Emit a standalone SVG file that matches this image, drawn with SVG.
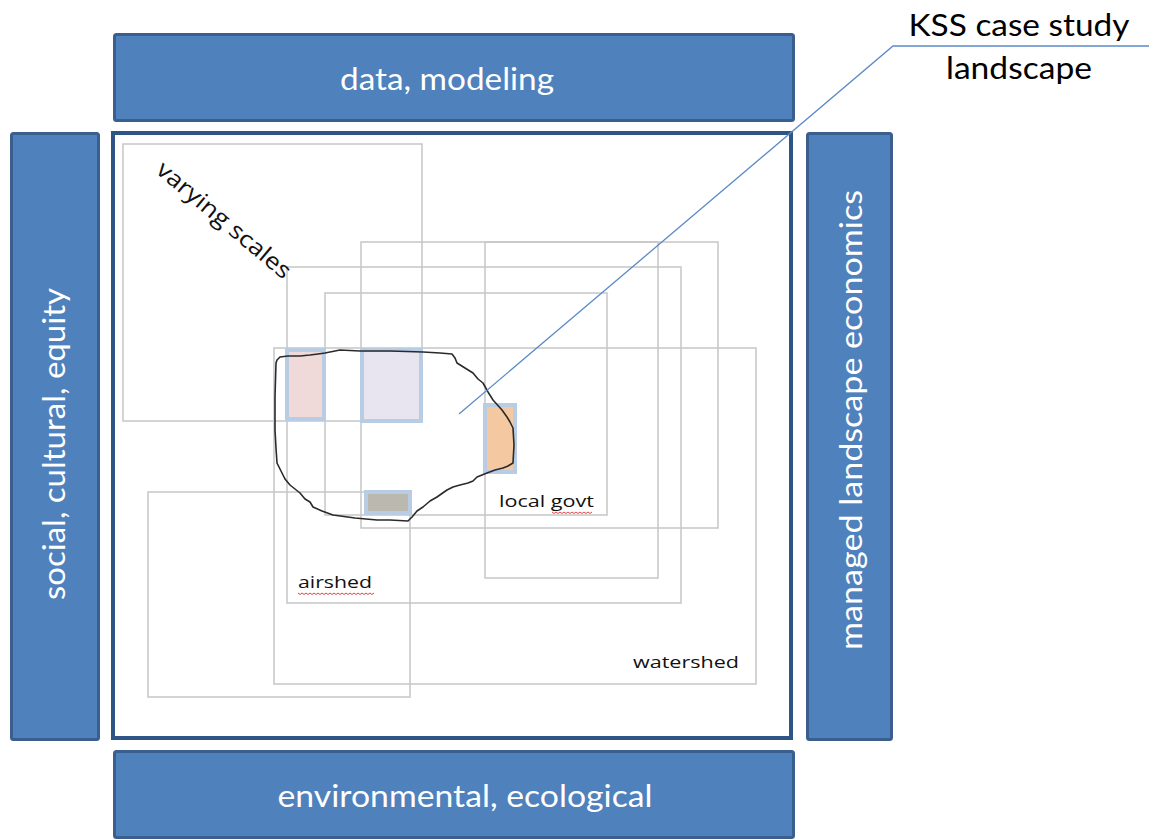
<svg xmlns="http://www.w3.org/2000/svg" width="1153" height="840" viewBox="0 0 1153 840">
<style>
.band{fill:#4f81bd;stroke:#3a5f8e;stroke-width:3}
.bt{font-family:Lato,"Open Sans",sans-serif;font-size:30px;fill:#ffffff}
.grid{fill:none;stroke:#c6c6c6;stroke-width:1.5}
.patch{stroke:#b8cce4;stroke-width:4}
.lbl{font-family:"Open Sans",Lato,sans-serif;font-size:17px;fill:#111111}
.vs{font-size:23px}
.kss{font-family:Lato,"Open Sans",sans-serif;font-size:31px;fill:#000000}
.sq{fill:none;stroke:#e03030;stroke-width:0.9}
</style>
<rect width="1153" height="840" fill="#ffffff"/>
<g id="top-band"><rect class="band" x="114.5" y="34.5" width="679" height="86" rx="2"/><text class="bt" x="447" y="90" text-anchor="middle" textLength="214" lengthAdjust="spacingAndGlyphs">data, modeling</text></g>
<g id="bottom-band"><rect class="band" x="114.5" y="751.5" width="679" height="86" rx="2"/><text class="bt" x="465" y="807" text-anchor="middle" textLength="375" lengthAdjust="spacingAndGlyphs">environmental, ecological</text></g>
<g id="left-band"><rect class="band" x="11.5" y="133.5" width="87" height="606" rx="2"/><text class="bt" transform="translate(65,444) rotate(-90)" x="0" y="0" text-anchor="middle" textLength="312" lengthAdjust="spacingAndGlyphs">social, cultural, equity</text></g>
<g id="right-band"><rect class="band" x="807.5" y="133.5" width="84" height="606" rx="2"/><text class="bt" transform="translate(862,420) rotate(-90)" x="0" y="0" text-anchor="middle" textLength="460" lengthAdjust="spacingAndGlyphs">managed landscape economics</text></g>
<g id="frame"><rect x="113" y="133" width="678" height="605" fill="none" stroke="#2f5587" stroke-width="4"/></g>
<g id="scales">
<rect class="grid" x="123" y="144" width="299" height="277"/>
<rect class="grid" x="361" y="242" width="357" height="286"/>
<rect class="grid" x="485" y="242" width="173" height="336"/>
<rect class="grid" x="287" y="267" width="394" height="336"/>
<rect class="grid" x="325" y="293" width="282" height="222"/>
<rect class="grid" x="274" y="348" width="482" height="336"/>
<rect class="grid" x="148" y="492" width="262" height="205"/>
</g>
<g id="patches">
<rect class="patch" x="287" y="350" width="37" height="69" fill="#efd9d9"/>
<rect class="patch" x="362" y="350" width="59" height="71" fill="#e8e4f0"/>
<rect class="patch" x="485" y="405" width="30" height="67" fill="#f4c8a0"/>
<rect class="patch" x="366" y="492" width="44" height="21" fill="#bbb8b0"/>
</g>
<g id="landscape">
<path d="M277,360 L280,357 L288,356 L300,356 L310,355 L318,354 L325,353 L340,350 L360,351 L390,351 L423,352 L440,353 L452,354 L455,358 L457,363 L465,368 L473,373 L478,379 L483,383 L488,392 L493,400 L502,410 L507,417 L510,422 L513,428 L514,445 L513,463 L508,466 L503,468 L495,470 L487,473 L477,477 L473,481 L468,483 L460,485 L453,487 L447,490 L437,497 L430,501 L423,507 L417,511 L412,517 L408,521 L390,520 L377,520 L355,518 L333,515 L322,511 L313,507 L310,502 L305,499 L300,493 L290,485 L285,479 L282,473 L277,463 L276,448 L275,430 L275,397 L276,363 Z" fill="none" stroke="#2a2a2a" stroke-width="1.6" stroke-linejoin="round"/>
</g>
<g id="labels">
<text class="lbl vs" transform="translate(219,226) rotate(40)" x="0" y="0" text-anchor="middle" textLength="168" lengthAdjust="spacingAndGlyphs">varying scales</text>
<text class="lbl" x="499" y="507" textLength="95" lengthAdjust="spacingAndGlyphs">local govt</text>
<path class="sq" d="M552,512 l2,1.5 l2,-1.5 l2,1.5 l2,-1.5 l2,1.5 l2,-1.5 l2,1.5 l2,-1.5 l2,1.5 l2,-1.5 l2,1.5 l2,-1.5 l2,1.5 l2,-1.5 l2,1.5 l2,-1.5 l2,1.5 l2,-1.5 l2,1.5 l2,-1.5"/>
<text class="lbl" x="298" y="588" textLength="74" lengthAdjust="spacingAndGlyphs">airshed</text>
<path class="sq" d="M298,593 l2,1.5 l2,-1.5 l2,1.5 l2,-1.5 l2,1.5 l2,-1.5 l2,1.5 l2,-1.5 l2,1.5 l2,-1.5 l2,1.5 l2,-1.5 l2,1.5 l2,-1.5 l2,1.5 l2,-1.5 l2,1.5 l2,-1.5 l2,1.5 l2,-1.5 l2,1.5 l2,-1.5 l2,1.5 l2,-1.5 l2,1.5 l2,-1.5 l2,1.5 l2,-1.5 l2,1.5 l2,-1.5 l2,1.5 l2,-1.5 l2,1.5 l2,-1.5 l2,1.5 l2,-1.5 l2,1.5 l2,-1.5"/>
<text class="lbl" x="633" y="668" textLength="106" lengthAdjust="spacingAndGlyphs">watershed</text>
</g>
<g id="connectors">
<polyline points="459,414 893,46 1149,46" fill="none" stroke="#5b8ac6" stroke-width="1.3"/>
</g>
<g id="callout">
<text class="kss" x="1019" y="36" text-anchor="middle" textLength="221" lengthAdjust="spacingAndGlyphs">KSS case study</text>
<text class="kss" x="1019" y="79" text-anchor="middle" textLength="146" lengthAdjust="spacingAndGlyphs">landscape</text>
</g>
</svg>
